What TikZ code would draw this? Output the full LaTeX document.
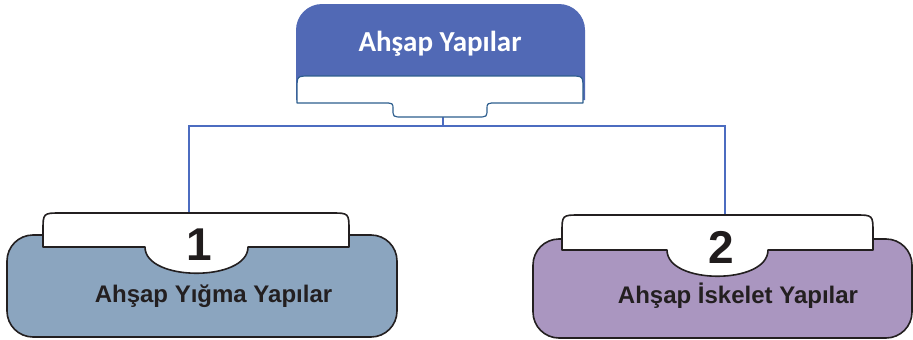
\documentclass[tikz,border=0pt]{standalone}
\usepackage{fontspec}
\newfontfamily\carlito{Carlito}
\newfontfamily\arialf{Liberation Sans}
\definecolor{topblue}{HTML}{5169B5}
\definecolor{tabblue}{HTML}{2E5E8E}
\definecolor{connblue}{HTML}{4C6CC0}
\definecolor{boxone}{HTML}{8BA5BF}
\definecolor{boxtwo}{HTML}{AA96C0}
\definecolor{inkdark}{HTML}{231F20}
\tikzset{
  conn/.style={draw=connblue, line width=1.5pt},
  mainbox/.style={draw=inkdark, line width=1.6pt, rounded corners=26pt},
  tabshape/.style={draw=inkdark, fill=white, line width=1.6pt, line join=round},
  toptab/.style={draw=tabblue, fill=white, line width=1.2pt, line join=round},
  titletext/.style={anchor=base, inner sep=0pt, text=white, font=\carlito\bfseries\fontsize{29}{31}\selectfont},
  boxtext/.style={anchor=base, inner sep=0pt, text=inkdark, font=\arialf\bfseries\fontsize{24}{27}\selectfont},
  numtext/.style={anchor=base, inner sep=0pt, text=inkdark!90!black, font=\arialf\bfseries\fontsize{46}{50}\selectfont}
}
\begin{document}
\begin{tikzpicture}[x=1pt,y=-1pt]
\useasboundingbox (0,0) rectangle (913,340);
% connector anchors
\coordinate (topbump) at (443,117);
\coordinate (tabone) at (189,213);
\coordinate (tabtwo) at (725,215);
\draw[conn] (topbump) -- ++(0,9) coordinate (hub);
\draw[conn] (hub) -| (tabone);
\draw[conn] (hub) -| (tabtwo);
% top box
\fill[topblue, rounded corners=26pt] (296,100) -- (296,4) -- (585,4) -- (585,100);
\draw[toptab] (297,103) -- (297,89) .. controls (297,76) .. (310,76) -- (570,76)
  .. controls (583,76) .. (583,89) -- (583,103) -- (497,103)
  .. controls (487,103) .. (487,109) .. controls (487,117) .. (477,117) -- (403,117)
  .. controls (393,117) .. (393,109) .. controls (393,103) .. (383,103) -- cycle;
\node[titletext] (title) at (440,51) {Ahşap Yapılar};
% left box
\draw[mainbox, fill=boxone] (7,235) rectangle (397,337);
\draw[tabshape] (43,247) -- (43,231) .. controls (43,213) .. (61,213) -- (331,213)
  .. controls (349,213) .. (349,231) -- (349,247) -- (248,247)
  .. controls (248,282) and (145,282) .. (145,247) -- cycle;
\node[numtext] (numone) at (199,260) {1};
\node[boxtext] (boxonetext) at (213.5,302) {Ahşap Yığma Yapılar};
% right box
\draw[mainbox, fill=boxtwo] (533,239) rectangle (912,338);
\draw[tabshape] (562,250) -- (562,233) .. controls (562,215) .. (580,215) -- (855,215)
  .. controls (873,215) .. (873,233) -- (873,250) -- (768,250)
  .. controls (768,285) and (667,285) .. (667,250) -- cycle;
\node[numtext] (numtwo) at (721,263) {2};
\node[boxtext] (boxtwotext) at (738,303) {Ahşap İskelet Yapılar};
\end{tikzpicture}
\end{document}
